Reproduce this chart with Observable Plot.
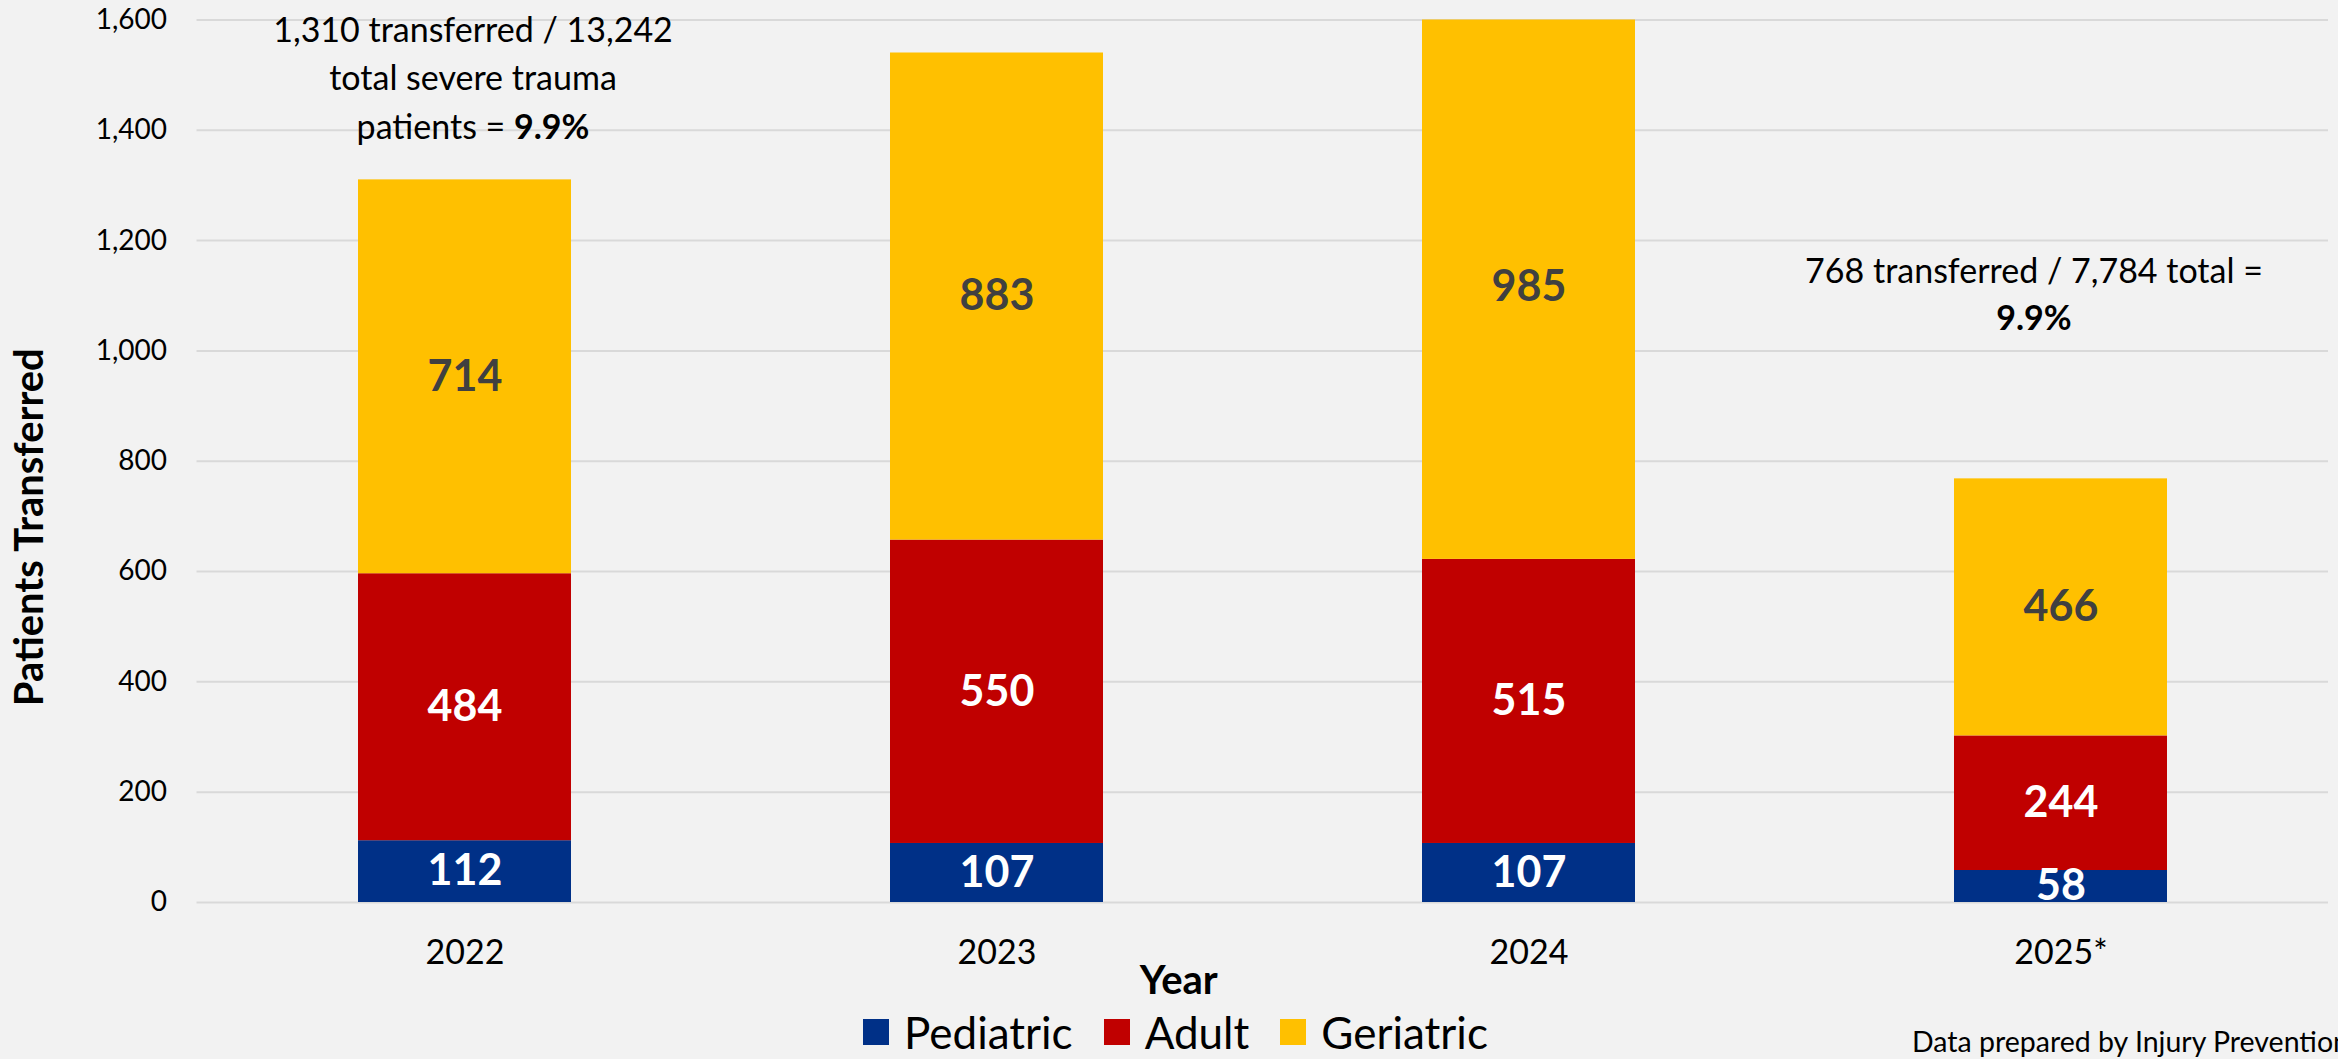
<!DOCTYPE html>
<html>
<head>
<meta charset="utf-8">
<script src="https://cdn.jsdelivr.net/npm/d3@7"></script>
<script src="https://cdn.jsdelivr.net/npm/@observablehq/plot@0.6"></script>
<style>
  html, body { margin: 0; padding: 0; background: #F2F2F2; width: 2338px; height: 1059px; overflow: hidden; font-family: Lato, sans-serif; }
  #chart { position: relative; width: 2338px; height: 1059px; overflow: hidden; }
  #legend { position: absolute; left: 863px; top: 1006px; display: flex; align-items: center; font-size: 44px; color: #000; white-space: nowrap; }
  #legend .item { display: flex; align-items: center; margin-right: 31px; }
  #legend .sw { width: 26px; height: 26px; margin-right: 15px; }
  #caption { position: absolute; left: 1912px; top: 1024px; font-size: 28.5px; color: #000; white-space: nowrap; }
</style>
</head>
<body>
<div id="chart"></div>
<script>
// ---- data ----
const years = ["2022", "2023", "2024", "2025*"];
const categories = ["Pediatric", "Adult", "Geriatric"];
const pediatric = [112, 107, 107, 58];
const adult = [484, 550, 515, 244];
const geriatric = [714, 883, 985, 466];
const categoryColors = ["#003087", "#C00000", "#FFC000"];
const yTicks = [0, 200, 400, 600, 800, 1000, 1200, 1400, 1600];
const yMax = 1600;
const annotationYears = ["2022", "2025*"];
const annotationTexts = [
  "1,310 transferred / 13,242\ntotal severe trauma\npatients = **9.9%**",
  "768 transferred / 7,784 total =\n**9.9%**"
];
const annotationValues = [1622, 1182];
const yTitle = "Patients Transferred";
const xTitle = "Year";
const captionText = "Data prepared by Injury Prevention";

// ---- tidy table ----
const seriesByCat = { Pediatric: pediatric, Adult: adult, Geriatric: geriatric };
const rows = [];
years.forEach((yr, i) => {
  categories.forEach(cat => rows.push({ year: yr, cat, value: seriesByCat[cat][i] }));
});
const annos = annotationYears.map((y, i) => ({ year: y, text: annotationTexts[i], value: annotationValues[i] }));

const stackOpts = { x: "year", y: "value", z: "cat", order: categories };

const svg = Plot.plot({
  width: 2338,
  height: 1010,
  marginLeft: 196.5,
  marginRight: 10,
  marginTop: 19.4,
  marginBottom: 108,
  style: { background: "#F2F2F2", fontFamily: "Lato, sans-serif", fontSize: "28px", color: "#000", overflow: "visible" },
  x: { domain: years, paddingInner: 0.6, paddingOuter: 0.3, label: null },
  y: { domain: [0, yMax], label: null },
  color: { domain: categories, range: categoryColors },
  marks: [
    Plot.gridY(yTicks, { stroke: "#D9D9D9", strokeWidth: 2, strokeOpacity: 1 }),
    Plot.axisY(yTicks, { tickSize: 0, tickPadding: 30, tickFormat: d3.format(","), label: null, fontSize: 28, fill: "#000" }),
    Plot.axisX({ tickSize: 0, tickPadding: 37, label: null, fontSize: 34, fill: "#000" }),
    Plot.barY(rows, Plot.stackY({ ...stackOpts, fill: "cat", clip: true })),
    Plot.text(rows.filter(d => d.cat !== "Geriatric"), Plot.stackY({ ...stackOpts, text: d => d.value, fill: "white", fontWeight: "bold", fontSize: 43 })),
    Plot.text(rows, Plot.stackY({ ...stackOpts, text: d => d.cat === "Geriatric" ? d.value : "", fill: "#404040", fontWeight: "bold", fontSize: 43 })),
    Plot.text(annos.filter(d => d.year === "2022"), { x: "year", y: "value", text: "text", lineAnchor: "top", dx: 8, fontSize: 34, lineHeight: 1.42, fill: "#000", className: "anno" }),
    Plot.text(annos.filter(d => d.year === "2025*"), { x: "year", y: "value", text: "text", lineAnchor: "top", dx: -27, fontSize: 34, lineHeight: 1.36, fill: "#000", className: "anno" }),
    Plot.text([yTitle], { text: d => d, frameAnchor: "left", textAnchor: "middle", rotate: -90, dx: -166.5, dy: 66, fontSize: 40, fontWeight: "bold", fill: "#000" }),
    Plot.text([xTitle], { text: d => d, frameAnchor: "bottom", textAnchor: "middle", dx: -84, dy: 91, fontSize: 40, fontWeight: "bold", fill: "#000" })
  ]
});

// bold the "**...**" parts of annotation text
d3.select(svg).selectAll(".anno text, .anno tspan").each(function () {
  if (this.childElementCount) return;
  const s = this.textContent;
  if (!s.includes("**")) return;
  const parts = s.split("**");
  this.textContent = "";
  parts.forEach((p, i) => {
    if (!p) return;
    const t = document.createElementNS("http://www.w3.org/2000/svg", "tspan");
    t.textContent = p;
    if (i % 2) t.setAttribute("font-weight", "bold");
    this.appendChild(t);
  });
});

const chart = document.getElementById("chart");
chart.appendChild(svg);

// legend (below the svg)
const legend = document.createElement("div");
legend.id = "legend";
categories.forEach((c, i) => {
  const item = document.createElement("div");
  item.className = "item";
  const sw = document.createElement("div");
  sw.className = "sw";
  sw.style.background = categoryColors[i];
  const lab = document.createElement("span");
  lab.textContent = c;
  item.appendChild(sw);
  item.appendChild(lab);
  legend.appendChild(item);
});
chart.appendChild(legend);

const cap = document.createElement("div");
cap.id = "caption";
cap.textContent = captionText;
chart.appendChild(cap);
</script>
</body>
</html>
